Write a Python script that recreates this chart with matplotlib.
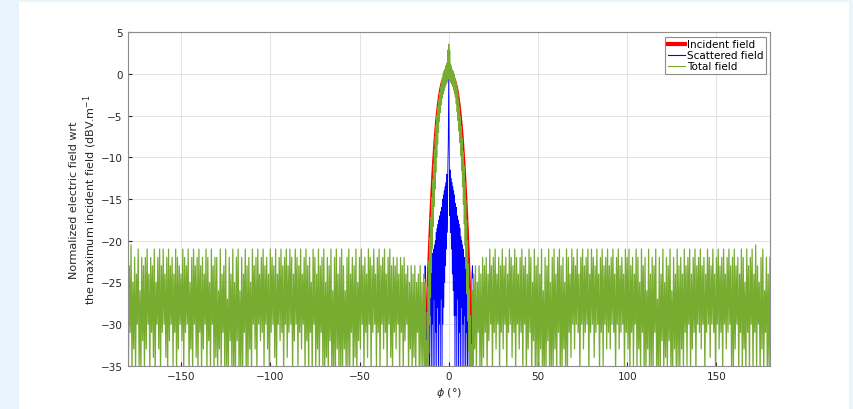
import matplotlib.pyplot as plt
import numpy as np
from matplotlib.patches import Rectangle

# incident field (dB), phi from -13.5 to 13.5 step 0.5
incident = [-38, -35, -31.36, -27.98, -24.83, -21.92, -19.25, -16.79, -14.54, -12.5,
            -10.65, -8.99, -7.5, -6.19, -5.03, -4.02, -3.15, -2.41, -1.8, -1.29,
            -0.89, -0.58, -0.35, -0.19, -0.08, -0.03, 0,
            0,
            0, -0.03, -0.08, -0.19, -0.35, -0.58, -0.89, -1.29, -1.8, -2.41,
            -3.15, -4.02, -5.03, -6.19, -7.5, -8.99, -10.65, -12.5, -14.54, -16.79,
            -19.25, -21.92, -24.83, -27.98, -31.36, -35, -38]

# scattered field (dB), phi from -13.5 to 13.5 step 0.25
scattered = [-24.5, -23, -24, -38, -31, -33, -28, -38, -27, -31,
             -25, -38, -24.5, -29, -23, -36, -22, -30, -21.5, -38,
             -21, -27, -20.5, -38, -20, -31, -19, -35, -18.5, -28,
             -18, -38, -17.5, -30, -17, -36, -16.5, -27, -16, -38,
             -15, -30, -14.5, -28, -14, -25, -13.5, -23, -13, -21,
             -12, -19, -11, -8,
             0.4,
             -8.5, -17, -11.5, -19, -12.5, -21, -13, -24, -13.5, -26,
             -14, -29, -14.5, -38, -15.5, -29, -16, -38, -17, -27,
             -17.5, -38, -18, -31, -18.5, -38, -19.5, -28, -20, -36,
             -20.5, -30, -21, -38, -22, -29, -22.5, -38, -23.5, -31,
             -24, -38, -25.5, -30, -27, -38, -29, -34, -31, -38,
             -35, -24, -23, -24.5]

# total field, main lobe, phi from -13.25 to 13.25 step 0.25
total_main = [-25, -36, -38, -32, -38, -28.6, -37, -25.5, -33.5, -22.4,
              -30, -19.6, -26.8, -17.2, -23.8, -14.8, -20.9, -12.7, -18.3, -10.8,
              -15.9, -9.1, -13.8, -7.5, -11.8, -6.1, -10.0, -4.9, -8.4, -3.9,
              -7.0, -3.0, -5.7, -2.2, -4.6, -1.5, -3.7, -0.9, -2.9, -0.4,
              -2.4, 0.1, -2.0, 0.4, -1.6, 0.6, -1.3, 1.0, -1.1, 1.3,
              -0.9, 2.9, -0.5,
              3.6,
              -0.6, 2.8, -0.8, 1.2, -1.0, 0.9, -1.2, 0.5, -1.5, 0.3,
              -1.9, 0, -2.3, -0.5, -2.76, -1.0, -3.56, -1.6, -4.5, -2.3,
              -5.59, -3.1, -6.83, -4.0, -8.23, -5.1, -9.79, -6.3, -11.55, -7.7,
              -13.5, -9.3, -15.64, -11.0, -18.0, -13.0, -20.56, -15.1, -23.35, -17.5,
              -26.37, -20, -29.64, -22.8, -33.15, -25.8, -37, -29, -38, -32.5,
              -38, -36, -26]

# total field, left side lobes, phi from -180 to -13.5 step 0.5
total_left = [
    -21, -36, -23, -31, -20.5, -36, -25, -33, -22, -36, -24, -30, -21, -35, -26, -36, -22, -32, -23, -36,
    -22, -33, -21, -30, -24, -36, -22, -31, -23, -34, -21, -36, -25, -30, -22, -33, -21, -36, -23, -31,
    -21, -30, -24, -34, -22, -36, -21, -32, -23, -30, -22, -35, -24, -31, -21, -36, -22, -33, -23, -30,
    -24, -32, -21, -36, -22, -31, -23, -30, -21, -36, -25, -33, -22, -36, -21, -30, -23, -34, -22, -36,
    -21, -31, -23, -36, -22, -33, -24, -30, -21, -36, -22, -32, -25, -36, -21, -30, -23, -36, -22, -34,
    -22, -36, -26, -33, -21, -36, -24, -31, -23, -36, -21, -35, -27, -36, -22, -32, -24, -36, -21, -36,
    -25, -36, -22, -32, -21, -36, -26, -36, -22, -36, -24, -31, -21, -36, -23, -36, -22, -33, -25, -36,
    -21, -30, -23, -33, -22, -36, -21, -30, -24, -32, -22, -31, -21, -35, -23, -30, -22, -33, -24, -36,
    -21, -31, -22, -30, -23, -34, -21, -36, -24, -30, -22, -32, -21, -31, -23, -36, -22, -30, -21, -34,
    -23, -31, -21, -30, -22, -36, -24, -32, -21, -30, -22, -35, -23, -31, -21, -33, -24, -30, -22, -36,
    -21, -32, -23, -36, -22, -31, -25, -36, -21, -30, -22, -36, -24, -33, -21, -36, -23, -31, -22, -36,
    -21, -36, -25, -34, -22, -36, -23, -32, -21, -36, -26, -36, -22, -36, -21, -33, -24, -36, -22, -36,
    -21, -36, -23, -33, -26, -36, -22, -35, -21, -36, -24, -31, -22, -36, -23, -34, -21, -36, -25, -32,
    -22, -33, -21, -30, -23, -36, -22, -31, -24, -34, -21, -30, -22, -36, -23, -31, -21, -30, -24, -35,
    -22, -31, -21, -36, -23, -30, -22, -33, -21, -31, -24, -36, -22, -30, -21, -34, -23, -36, -22, -31,
    -23, -33, -22, -30, -24, -36, -22, -31, -23, -36, -22, -32, -24, -30, -23, -36, -25, -33, -23, -36,
    -24, -34, -23, -36, -25, -31, -24, -36, -23, -35, -25, -36, -24, -36]

# total field, right side lobes, phi from 13.5 to 180 step 0.5
total_right = [
    -36, -24, -33, -23, -36, -25, -31, -23, -36, -24, -36, -22, -34,
    -23, -31, -22, -36, -24, -32, -21, -30, -23, -36, -22, -31, -21, -33, -24, -30, -22, -36, -23, -31,
    -21, -33, -23, -30, -22, -36, -24, -31, -21, -30, -22, -34, -23, -31, -21, -36, -22, -30, -24, -33,
    -22, -31, -21, -36, -23, -30, -22, -36, -24, -33, -21, -31, -22, -36, -25, -32, -21, -36, -23, -35,
    -22, -36, -24, -33, -21, -36, -26, -36, -22, -36, -23, -32, -21, -36, -25, -36, -22, -36, -21, -33,
    -24, -36, -22, -31, -21, -36, -23, -36, -22, -33, -25, -36, -21, -36, -22, -31, -24, -34, -21, -30,
    -22, -33, -23, -30, -21, -31, -24, -36, -22, -30, -21, -33, -23, -31, -22, -30, -21, -36, -24, -31,
    -21, -30, -22, -34, -23, -31, -21, -30, -24, -36, -22, -31, -21, -35, -23, -30, -22, -33, -21, -31,
    -23, -33, -22, -30, -21, -31, -24, -36, -22, -30, -21, -33, -23, -31, -22, -30, -24, -36, -21, -31,
    -22, -33, -21, -36, -23, -31, -22, -35, -24, -30, -21, -36, -22, -33, -25, -36, -21, -31, -23, -36,
    -22, -36, -26, -33, -21, -36, -24, -35, -22, -36, -23, -31, -21, -36, -27, -36, -22, -36, -24, -32,
    -21, -36, -25, -34, -22, -36, -23, -32, -21, -36, -26, -36, -22, -33, -24, -36, -21, -35, -23, -36,
    -22, -33, -24, -36, -21, -31, -23, -35, -22, -30, -21, -36, -24, -33, -22, -31, -21, -36, -23, -30,
    -22, -31, -21, -33, -23, -30, -22, -36, -24, -31, -21, -30, -22, -34, -23, -30, -21, -31, -24, -36,
    -22, -30, -21, -33, -23, -31, -22, -36, -21, -30, -24, -33, -22, -31, -21, -30, -23, -36, -22, -36,
    -21, -33, -23, -30, -22, -36, -24, -31, -21, -36, -22, -33, -25, -36, -21, -31, -23, -36, -22, -30,
    -21, -36, -24, -31, -20.5, -36, -23, -30, -25, -36, -22, -33, -21, -36, -26, -31, -22, -36, -24, -36,
    -22]

xticks = [-150, -100, -50, 0, 50, 100, 150]
yticks = [-35, -30, -25, -20, -15, -10, -5, 0, 5]

phi_inc = np.arange(-13.5, 13.75, 0.5)
phi_sca = np.arange(-13.5, 13.6, 0.25)
phi_total = np.concatenate([np.arange(-180, -13.25, 0.5),
                            np.arange(-13.25, 13.3, 0.25),
                            np.arange(13.5, 180.25, 0.5)])
total = np.concatenate([total_left, total_main, total_right])

plt.rcParams['font.family'] = 'DejaVu Sans'
fig = plt.figure(figsize=(8.54, 4.10), dpi=100)
fig.patch.set_facecolor('#e9f5fd')
fig.add_artist(Rectangle((19 / 854, 0), (849 - 19) / 854, (410 - 3) / 410,
                         transform=fig.transFigure, facecolor='white', edgecolor='none', zorder=0))

ax = fig.add_axes([0.1493, 0.1056, 0.7523, 0.8127])
ax.plot(phi_inc, incident, color='#ff0000', lw=2.2, label='Incident field')
ax.plot(phi_sca, scattered, color='#0000ff', lw=0.6, label='Scattered field')
ax.plot(phi_total, total, color='#77ac30', lw=0.9, label='Total field')

ax.set_xlim(-180, 180)
ax.set_ylim(-35, 5)
ax.set_xticks(xticks)
ax.set_yticks(yticks)
ax.grid(True, color='#e3e3e3', lw=0.7)
ax.set_axisbelow(True)
ax.tick_params(direction='in', length=3, labelsize=7.5, colors='#262626')
for sp in ax.spines.values():
    sp.set_color('#8c8c8c')
    sp.set_linewidth(0.8)

ax.set_xlabel(r'$\phi$ (°)', fontsize=8, color='#262626', labelpad=3)
ax.set_ylabel('Normalized electric field wrt\nthe maximum incident field (dBV.m$^{-1}$',
              fontsize=8, color='#262626', labelpad=1)

leg = ax.legend(loc='upper right', fontsize=7.5, frameon=True, fancybox=False,
                borderaxespad=0.4, handlelength=1.6, handletextpad=0.2,
                labelspacing=0.1, borderpad=0.25, framealpha=1)
leg.get_frame().set_edgecolor('#8c8c8c')
leg.get_frame().set_linewidth(0.8)
leg.get_lines()[0].set_linewidth(3)
leg.get_lines()[1].set_linewidth(0.8)
leg.get_lines()[2].set_linewidth(0.8)

fig.savefig('out.png', dpi=100, facecolor=fig.get_facecolor())
